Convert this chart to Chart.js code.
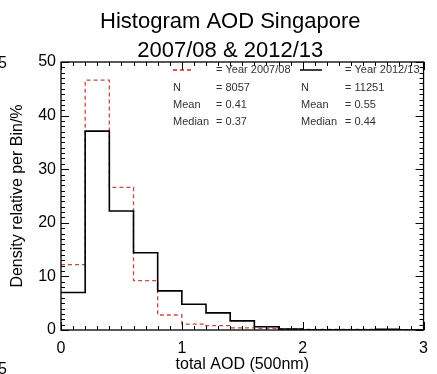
<!DOCTYPE html>
<html lang="en">
<head>
  <meta charset="UTF-8" />
  <title>Histogram AOD Singapore</title>
  <script src="https://cdn.jsdelivr.net/npm/chart.js"></script>
  <style>
    body {
      margin: 0;
      background: #fff;
    }
    #wrap {
      width: 437px;
      height: 374px;
    }
  </style>
</head>
<body>
  <div id="wrap"><canvas id="histChart" width="437" height="374"></canvas></div>

  <script>
    // bin edges of the histogram (total AOD), 0.2 wide
    const binEdges = [0, 0.2, 0.4, 0.6, 0.8, 1.0, 1.2, 1.4, 1.6, 1.8, 2.0, 2.2, 2.4, 2.6, 2.8, 3.0];
    // density per bin in %
    const year0708 = [12.2, 46.6, 26.6, 9.2, 2.8, 1.1, 0.8, 0.4, 0.3, 0.2, 0.1, 0.1, 0.1, 0, 0];
    const year1213 = [7.0, 37.1, 22.2, 14.4, 7.3, 4.8, 3.2, 1.7, 0.6, 0.2, 0, 0, 0, 0.15, 0];
    const xTicks = [0, 1, 2, 3];
    const yTicks = [0, 10, 20, 30, 40, 50];
    const legendRows = [
      ['N', '= 8057', 'N', '= 11251'],
      ['Mean', '= 0.41', 'Mean', '= 0.55'],
      ['Median', '= 0.37', 'Median', '= 0.44']
    ];

    const FONT = '"Liberation Sans", Arial, sans-serif';

    function toSteps(vals) {
      const pts = vals.map((v, i) => ({ x: binEdges[i], y: v }));
      pts.push({ x: binEdges[binEdges.length - 1], y: 0 });
      return pts;
    }

    // inward ticks on all four sides + box + legend text
    const framePlugin = {
      id: 'frame',
      afterLayout(chart) {
        // title sits a little left of the plot centre in the original
        chart.titleBlock.left -= 24;
      },
      afterDraw(chart) {
        const { ctx, chartArea: a, scales: { x, y } } = chart;
        ctx.save();
        ctx.strokeStyle = '#000';
        ctx.lineWidth = 1;
        ctx.beginPath();
        for (let i = 0; i <= 30; i++) {
          const px = Math.round(x.getPixelForValue(i / 10)) + 0.5;
          const len = i % 10 === 0 ? 8 : 4;
          ctx.moveTo(px, a.bottom); ctx.lineTo(px, a.bottom - len);
          ctx.moveTo(px, a.top); ctx.lineTo(px, a.top + len);
        }
        for (let j = 0; j <= 50; j++) {
          const py = Math.round(y.getPixelForValue(j)) + 0.5;
          const len = j % 10 === 0 ? 8 : 4;
          ctx.moveTo(a.left, py); ctx.lineTo(a.left + len, py);
          ctx.moveTo(a.right, py); ctx.lineTo(a.right - len, py);
        }
        ctx.stroke();
        ctx.lineWidth = 1.3;
        ctx.strokeRect(a.left, a.top, a.right - a.left, a.bottom - a.top);

        // legend block
        ctx.font = '11px ' + FONT;
        ctx.fillStyle = '#333';
        ctx.textBaseline = 'middle';
        ctx.textAlign = 'left';
        ctx.strokeStyle = '#d42020';
        ctx.lineWidth = 1.5;
        ctx.setLineDash([4, 3]);
        ctx.beginPath();
        ctx.moveTo(173, 70); ctx.lineTo(194, 70);
        ctx.stroke();
        ctx.setLineDash([]);
        ctx.strokeStyle = '#000';
        ctx.beginPath();
        ctx.moveTo(300, 70); ctx.lineTo(322, 70);
        ctx.stroke();
        ctx.fillText('= Year 2007/08', 216, 70);
        ctx.fillText('= Year 2012/13', 345, 70);
        legendRows.forEach((row, k) => {
          const ry = 87.5 + k * 17.3;
          ctx.fillText(row[0], 173, ry);
          ctx.fillText(row[1], 216, ry);
          ctx.fillText(row[2], 301, ry);
          ctx.fillText(row[3], 345, ry);
        });

        // stray label fragments at the left edge
        ctx.font = '16px ' + FONT;
        ctx.fillStyle = '#000';
        ctx.fillText('5', -2, 64);
        ctx.fillText('5', -2, 370);
        ctx.restore();
      }
    };

    const chart = new Chart(document.getElementById('histChart'), {
      type: 'line',
      data: {
        datasets: [
          {
            label: 'Year 2012/13',
            data: toSteps(year1213),
            stepped: 'before',
            borderColor: '#000',
            borderWidth: 1.6,
            pointRadius: 0,
            fill: false,
            order: 0
          },
          {
            label: 'Year 2007/08',
            data: toSteps(year0708),
            stepped: 'before',
            borderColor: '#c84a44',
            borderWidth: 1.3,
            borderDash: [4, 3],
            pointRadius: 0,
            fill: false,
            order: 1
          }
        ]
      },
      options: {
        responsive: false,
        animation: false,
        layout: { padding: { left: 0, right: 10, top: 0, bottom: 0 } },
        plugins: {
          legend: { display: false },
          tooltip: { enabled: false },
          title: {
            display: true,
            fullSize: false,
            text: ['Histogram AOD Singapore', '2007/08 & 2012/13'],
            color: '#000',
            font: { family: FONT, size: 22, weight: 'normal', lineHeight: '29px' },
            padding: { top: 7, bottom: -3 }
          }
        },
        scales: {
          x: {
            type: 'linear',
            min: 0,
            max: 3,
            afterFit: s => { s.height = 44; },
            afterBuildTicks: s => { s.ticks = xTicks.map(v => ({ value: v })); },
            grid: { display: false, drawTicks: false },
            border: { display: false },
            ticks: {
              color: '#000',
              padding: 9,
              font: { family: FONT, size: 16 }
            },
            title: {
              display: true,
              text: 'total AOD (500nm)',
              color: '#000',
              font: { family: FONT, size: 16 },
              padding: { top: 2, bottom: 0 }
            }
          },
          y: {
            min: 0,
            max: 50,
            afterFit: s => { s.width = 61; },
            afterBuildTicks: s => { s.ticks = yTicks.map(v => ({ value: v })); },
            grid: { display: false, drawTicks: false },
            border: { display: false },
            ticks: {
              color: '#000',
              padding: 5,
              font: { family: FONT, size: 16 }
            },
            title: {
              display: true,
              text: 'Density relative per Bin/%',
              color: '#000',
              font: { family: FONT, size: 16 },
              padding: { top: 8, bottom: 0 }
            }
          }
        }
      },
      plugins: [framePlugin]
    });
  </script>
</body>
</html>
